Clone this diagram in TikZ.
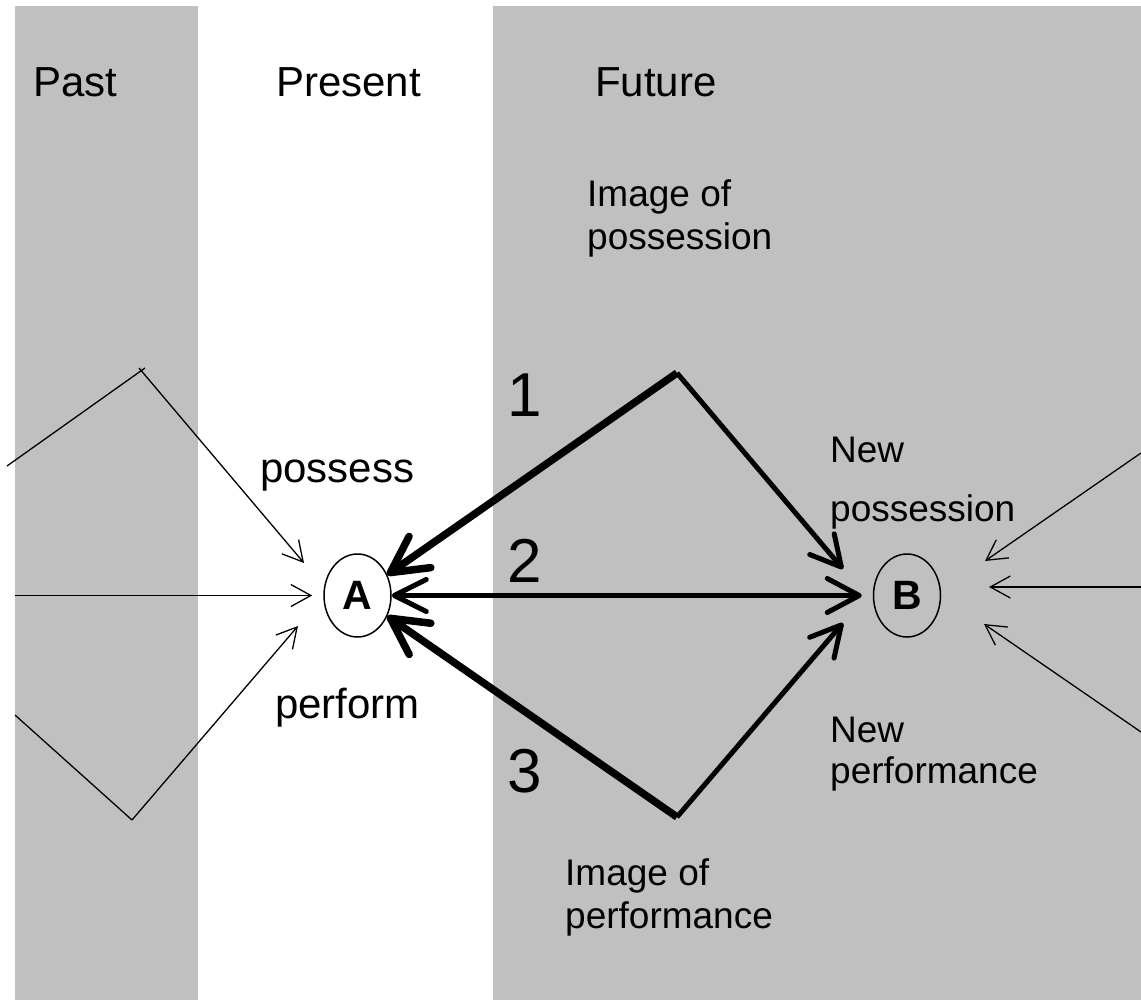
\documentclass[tikz,border=0pt]{standalone}
\usepackage{fontspec}
\setmainfont{Liberation Sans}
\usetikzlibrary{shapes.geometric,arrows.meta}
\definecolor{bandgray}{RGB}{192,192,192}
\begin{document}
\begin{tikzpicture}[x=1pt,y=-1pt,
  lbl/.style={inner sep=0pt, anchor=base west, font=\fontsize{42}{50}\selectfont},
  sublbl/.style={inner sep=0pt, anchor=base west, font=\fontsize{37}{44}\selectfont},
  numlbl/.style={inner sep=0pt, anchor=base west, font=\fontsize{62}{70}\selectfont},
  state/.style={ellipse, draw, line width=1.5pt, minimum width=67pt, minimum height=83pt,
    inner sep=0pt, font=\bfseries\fontsize{41}{48}\selectfont},
  plain/.style={line width=1.3pt},
  thinarrow/.style={line width=1.3pt, -{Straight Barb[length=20pt,width=22pt]}},
  medarrow/.style={line width=5pt, -{Straight Barb[round,length=30pt,width=32pt]}},
  heavyarrow/.style={line width=7.5pt, -{Straight Barb[round,length=36pt,width=38pt]}},
]
\useasboundingbox (0,0) rectangle (1141,1000);
\fill[white] (0,0) rectangle (1141,1000);

% time bands
\fill[bandgray] (15,6) rectangle (198,1000);
\fill[bandgray] (493,6) rectangle (1141,1000);

% headings
\node[lbl] (past) at (33,97) {Past};
\node[lbl] (present) at (276,97) {Present};
\node[lbl] (future) at (595,97) {Future};

% states
\node[state] (A) at (357.5,595.5) {A};
\node[state] (B) at (907,595.5) {B};

% labels around the states
\node[lbl] (possess) at (260,482) {possess};
\node[lbl] (perform) at (275,718) {perform};
\node[sublbl] (imgpos1) at (587,207) {Image of};
\node[sublbl] (imgpos2) at (587,250) {possession};
\node[sublbl] (newpos1) at (830,462) {New};
\node[sublbl] (newpos2) at (830,521) {possession};
\node[sublbl] (newperf1) at (830,742) {New};
\node[sublbl] (newperf2) at (830,783) {performance};
\node[sublbl] (imgperf1) at (565,885) {Image of};
\node[sublbl] (imgperf2) at (565,928) {performance};

% step numbers
\node[numlbl] (n1) at (507,416) {1};
\node[numlbl] (n2) at (507,582) {2};
\node[numlbl] (n3) at (507,792) {3};

% turning points and free arrow ends
\coordinate (P1) at (677,373);
\coordinate (V3) at (677,817);
\coordinate (bNW) at (843,569);
\coordinate (bSW) at (843,623);
\coordinate (la0) at (7,466);
\coordinate (la1) at (142,370);
\coordinate (aNW) at (304,563);
\coordinate (lb0) at (15,595.5);
\coordinate (lc0) at (15,715);
\coordinate (lc1) at (132,820);
\coordinate (aSW) at (298,626);
\coordinate (ra0) at (1141,453);
\coordinate (bNE) at (985,561);
\coordinate (rb0) at (1141,587);
\coordinate (bE) at (989,587);
\coordinate (rc0) at (1141,732);
\coordinate (bSE) at (984,624);

% influences from the past into A
\draw[plain] (la0) -- ([shift={(3,-2)}]la1);
\draw[thinarrow] ([shift={(-3,-2)}]la1) -- (aNW);
\draw[thinarrow, shorten >=11pt] (lb0) -- (A);
\draw[plain] (lc0) -- (lc1);
\draw[thinarrow] (lc1) -- (aSW);

% influences from beyond into B
\draw[thinarrow] (ra0) -- (bNE);
\draw[thinarrow] (rb0) -- (bE);
\draw[thinarrow] (rc0) -- (bSE);

% path 1: via the image of possession
\draw[heavyarrow] (P1) -- (A);
\draw[medarrow] (P1) -- (bNW);

% path 2: direct
\draw[line width=5pt, {Straight Barb[round,length=32pt,width=32pt]}-{Straight Barb[round,length=32pt,width=34pt]}, shorten >=11pt] (A) -- (B);

% path 3: via the image of performance
\draw[heavyarrow] (V3) -- (A);
\draw[medarrow] (V3) -- (bSW);
\end{tikzpicture}
\end{document}
